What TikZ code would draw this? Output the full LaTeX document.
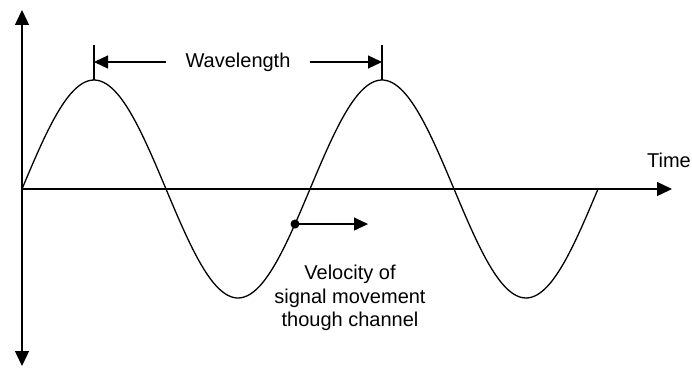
\documentclass[tikz,border=0pt]{standalone}
\usepackage{fontspec}
\setmainfont{Liberation Sans}
\usetikzlibrary{arrows.meta}
\begin{document}
\begin{tikzpicture}[x=1pt,y=-1pt,font=\fontsize{20}{23.5}\selectfont]
	\tikzstyle{axis}=[line width=1.4pt,-{Triangle[length=15pt,width=14pt]}]
	\tikzstyle{wave}=[line width=1.3pt]
	\tikzstyle{span}=[line width=1.3pt,-{Triangle[length=14pt,width=13pt]}]
	\tikzstyle{lbl}=[inner sep=0pt,align=center]
	\useasboundingbox (0,0) rectangle (692,369);

	% axes
	\coordinate (O) at (22,189);
	\coordinate (ytop) at (22,10);
	\coordinate (ybot) at (22,366);
	\coordinate (xend) at (672,189);
	\draw[axis] (O) -- (ytop);
	\draw[axis] (O) -- (ybot);
	\draw[axis] (O) -- (xend);
	\node[lbl,anchor=base east] (time) at (691,167) {Time};

	% signal
	\draw[wave] plot[domain=0:720,samples=200,smooth] ({22+0.8*\x},{189-109*sin(\x)});

	% wavelength
	\coordinate (pk1) at (94,80);
	\coordinate (pk2) at (382,80);
	\draw[wave] (pk1) -- ++(0,-35) coordinate (tk1);
	\draw[wave] (pk2) -- ++(0,-35) coordinate (tk2);
	\node[lbl] (wl) at (238,62) {Wavelength};
	\draw[span] ([xshift=-19pt]wl.west) -- (wl.west -| pk1);
	\draw[span] ([xshift=19pt]wl.east) -- (wl.east -| pk2);

	% velocity
	\coordinate (dot) at ({22+0.8*341.25},{189-109*sin(341.25)});
	\fill (dot) circle (4.5pt);
	\draw[span] (dot) -- ++(73,0) coordinate (vend);
	\node[lbl] (vel) at (350,298) {Velocity of\\signal movement\\though channel};
\end{tikzpicture}
\end{document}
